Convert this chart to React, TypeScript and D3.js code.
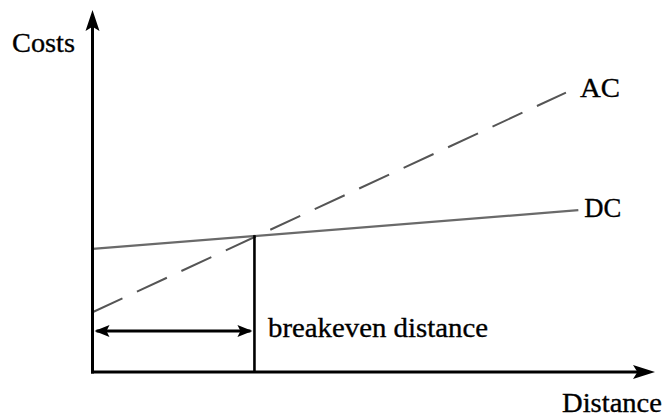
import React from "react";
import * as d3 from "d3";

// Data (abstract units)
const acDistance = [0, 8.77];
const acCost = [1.65, 7.72];
const dcDistance = [0, 9];
const dcCost = [3.4, 4.47];
const breakevenDistance = 3;
const breakevenCost = 3.78;
const axisMaxX = 10.42;
const axisMaxY = 10;

const W = 669;
const H = 416;

const x = d3.scaleLinear().domain([0, axisMaxX]).range([92.5, 655]);
const y = d3.scaleLinear().domain([0, axisMaxY]).range([372, 10]);

const line = d3
  .line<[number, number]>()
  .x((d) => x(d[0]))
  .y((d) => y(d[1]));

const acPts: [number, number][] = acDistance.map((d, i) => [d, acCost[i]]);
const dcPts: [number, number][] = dcDistance.map((d, i) => [d, dcCost[i]]);

const font = "'Liberation Serif', 'Times New Roman', serif";

function arrowHead(tx: number, ty: number, dir: "up" | "right" | "left", len: number, half: number) {
  let pts: [number, number][];
  if (dir === "up") pts = [[tx, ty], [tx - half, ty + len], [tx, ty + len * 0.8], [tx + half, ty + len]];
  else if (dir === "right") pts = [[tx, ty], [tx - len, ty - half], [tx - len * 0.8, ty], [tx - len, ty + half]];
  else pts = [[tx, ty], [tx + len, ty - half], [tx + len * 0.8, ty], [tx + len, ty + half]];
  return pts.map((p) => p.join(",")).join(" ");
}

const textProps = {
  fontFamily: font,
  fontSize: 28,
  fill: "#000",
  stroke: "#000",
  strokeWidth: 0.35,
  lengthAdjust: "spacingAndGlyphs",
};

export default function App() {
  const x0 = x(0);
  const y0 = y(0);
  const bx = x(breakevenDistance);
  const by = y(breakevenCost);
  const arrowY = 331;
  const acEnd = acPts[acPts.length - 1];
  const dcEnd = dcPts[dcPts.length - 1];
  return (
    <div style={{ position: "fixed", left: 0, top: 0 }}>
      <svg width={W} height={H} style={{ display: "block", background: "#fff" }}>
        {/* DC line */}
        <path d={line(dcPts) || ""} stroke="#6a6a6a" strokeWidth={2.2} fill="none" />
        {/* AC dashed line */}
        <path
          d={line(acPts) || ""}
          stroke="#555"
          strokeWidth={2}
          fill="none"
          strokeDasharray="33 16"
        />
        {/* breakeven vertical */}
        <line x1={bx} x2={bx} y1={by} y2={y0} stroke="#000" strokeWidth={2.6} />
        {/* breakeven double arrow */}
        <line x1={x0 + 4} x2={bx - 4} y1={arrowY} y2={arrowY} stroke="#000" strokeWidth={3} />
        <polygon points={arrowHead(x0 + 2, arrowY, "left", 15, 6)} fill="#000" />
        <polygon points={arrowHead(bx - 2, arrowY, "right", 15, 6)} fill="#000" />
        {/* axes */}
        <line x1={x0} x2={x0} y1={y(axisMaxY) + 15} y2={y0 + 1.5} stroke="#000" strokeWidth={3} />
        <line x1={x0 - 1.5} x2={x(axisMaxX) - 15} y1={y0} y2={y0} stroke="#000" strokeWidth={3} />
        <polygon points={arrowHead(x0, y(axisMaxY), "up", 21, 7)} fill="#000" />
        <polygon points={arrowHead(x(axisMaxX), y0, "right", 22, 7)} fill="#000" />
        {/* labels */}
        <text x={12} y={52} textLength={63} {...textProps}>
          Costs
        </text>
        <text x={x(acEnd[0]) + 14} y={y(acEnd[1]) + 4} textLength={40} {...textProps}>
          AC
        </text>
        <text x={x(dcEnd[0]) + 6} y={y(dcEnd[1]) + 7} textLength={37} {...textProps}>
          DC
        </text>
        <text x={268} y={337} textLength={220} {...textProps}>
          breakeven distance
        </text>
        <text x={562} y={412} textLength={100} {...textProps}>
          Distance
        </text>
      </svg>
    </div>
  );
}
